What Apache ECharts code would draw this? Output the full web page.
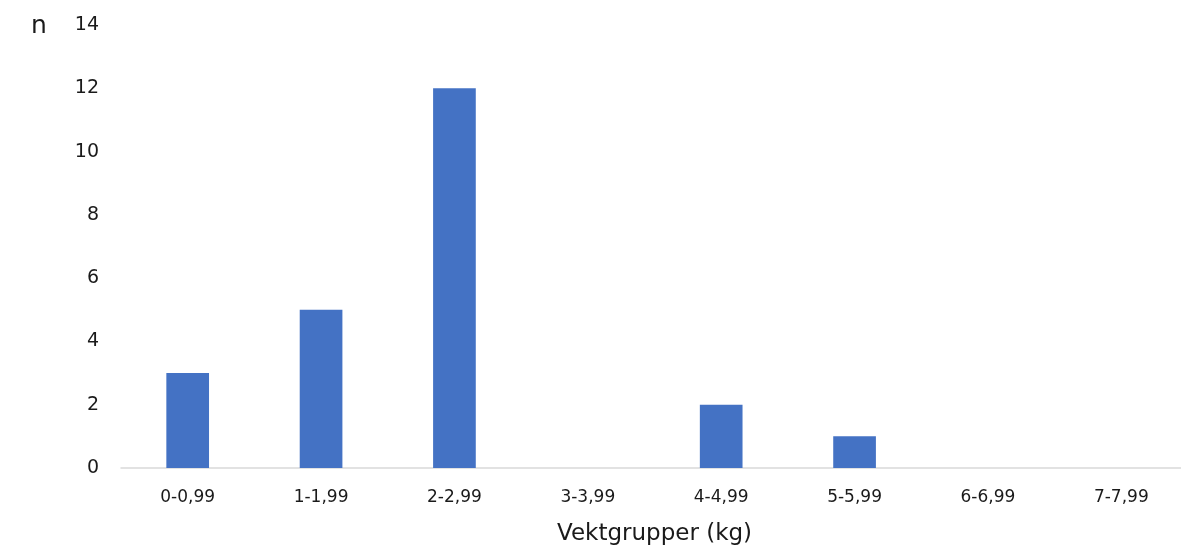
<!DOCTYPE html>
<html>
<head>
    <meta charset="utf-8">
    <title>Vektgrupper</title>
    <script src="https://cdn.jsdelivr.net/npm/echarts@6/dist/echarts.min.js"></script>
</head>
<body style="margin:0;background:#fff">
    <div id="main" style="width:1181px;height:551px"></div>
    <script type="text/javascript">
        const CATEGORIES = ['0-0,99', '1-1,99', '2-2,99', '3-3,99', '4-4,99', '5-5,99', '6-6,99', '7-7,99'];
        const COUNTS = [3, 5, 12, 0, 2, 1, 0, 0];
        const Y_TICKS = [0, 2, 4, 6, 8, 10, 12, 14];

        const FONT = '"DejaVu Sans", "Open Sans", sans-serif';
        let myChart = echarts.init(document.getElementById('main'));

        // plot area runs slightly past the right edge, like the original crop
        const option = {
            animation: false,
            grid: {left: 121, right: -7, top: 25, bottom: 83, containLabel: false, outerBoundsMode: 'none'},
            xAxis: {
                type: 'category',
                data: CATEGORIES,
                name: 'Vektgrupper (kg)',
                nameLocation: 'middle',
                nameGap: 55,
                nameTextStyle: {fontFamily: FONT, fontSize: 23, color: '#1a1a1a'},
                axisTick: {show: false},
                axisLine: {lineStyle: {color: '#d9d9d9', width: 1.5}},
                axisLabel: {fontFamily: FONT, fontSize: 17, color: '#1a1a1a', margin: 21}
            },
            yAxis: {
                type: 'value',
                min: Y_TICKS[0],
                max: Y_TICKS[Y_TICKS.length - 1],
                interval: 2,
                splitLine: {show: false},
                axisLine: {show: false},
                axisTick: {show: false},
                axisLabel: {fontFamily: FONT, fontSize: 19, color: '#1a1a1a', margin: 22}
            },
            graphic: [{
                type: 'text',
                left: 31,
                top: 14,
                style: {text: 'n', font: '25px ' + FONT, fill: '#1a1a1a'}
            }],
            series: [{
                type: 'bar',
                data: COUNTS,
                barWidth: '32%',
                itemStyle: {color: '#4472c4'}
            }]
        };
        myChart.setOption(option);
    </script>
</body>
</html>
